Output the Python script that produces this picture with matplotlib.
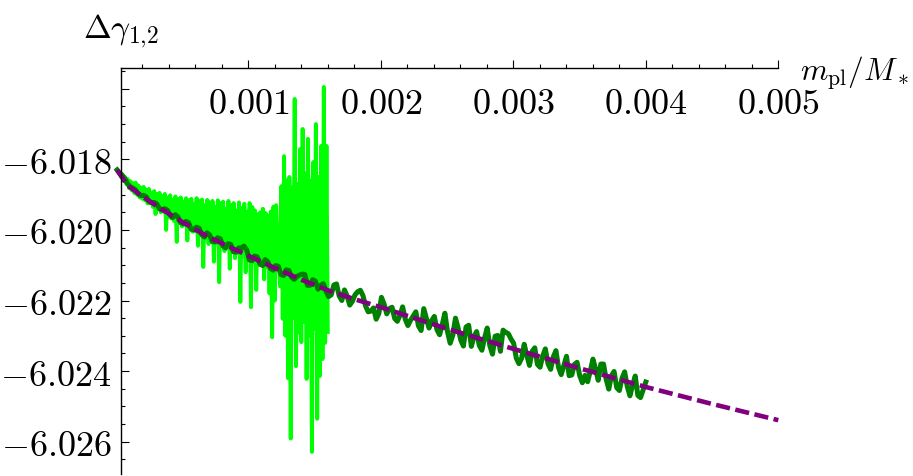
import matplotlib
matplotlib.use("Agg")
import matplotlib.pyplot as plt
import numpy as np
from matplotlib.ticker import MultipleLocator, FixedLocator

plt.rcParams['mathtext.fontset'] = 'cm'

# purple dashed fit
fit_x = [0.00001, 0.00003, 0.00006, 0.0001, 0.0002, 0.0003, 0.0004, 0.0005, 0.0006,
         0.0007, 0.0008, 0.0010, 0.0012, 0.0014, 0.0016, 0.0018, 0.0020, 0.0025,
         0.0030, 0.0035, 0.0040, 0.0045, 0.0050]
fit_y = [-6.01830, -6.01842, -6.01858, -6.01877, -6.01905, -6.01930, -6.01954, -6.01977,
         -6.01999, -6.02020, -6.02038, -6.02073, -6.02108, -6.02141, -6.02171, -6.02196,
         -6.02219, -6.02280, -6.02337, -6.02392, -6.02445, -6.02493, -6.02539]

# dark green series, x from 0.00001 to 0.004 (main grid + in-between samples)
dark_y_main = [-6.01830, -6.01846, -6.01870, -6.01882, -6.01898, -6.01902, -6.01919, -6.01922, -6.01940, -6.01940,
               -6.01958, -6.01957, -6.01979, -6.01976, -6.01998, -6.01992, -6.02013, -6.02008, -6.02033, -6.02022,
               -6.02045, -6.02039, -6.02062, -6.02051, -6.02046, -6.02085, -6.02074, -6.02096, -6.02084, -6.02109,
               -6.02101, -6.02127, -6.02113, -6.02134, -6.02132, -6.02125, -6.02157, -6.02141, -6.02168, -6.02152,
               -6.02189, -6.02156, -6.02187, -6.02170, -6.02213, -6.02184, -6.02171, -6.02216, -6.02230, -6.02253,
               -6.02191, -6.02238, -6.02219, -6.02259, -6.02218, -6.02271, -6.02244, -6.02272, -6.02223, -6.02278,
               -6.02245, -6.02297, -6.02236, -6.02321, -6.02250, -6.02312, -6.02275, -6.02330, -6.02288, -6.02341,
               -6.02278, -6.02352, -6.02299, -6.02284, -6.02294, -6.02321, -6.02379, -6.02324, -6.02384, -6.02334,
               -6.02389, -6.02337, -6.02395, -6.02342, -6.02410, -6.02358, -6.02411, -6.02375, -6.02433, -6.02430,
               -6.02366, -6.02426, -6.02380, -6.02451, -6.02401, -6.02455, -6.02402, -6.02470, -6.02414, -6.02475,
               -6.02431]
dark_y_mid = [-6.01839, -6.01856, -6.01878, -6.01887, -6.01903, -6.01906, -6.01923, -6.01926, -6.01944, -6.01944,
              -6.01965, -6.01963, -6.01983, -6.01979, -6.02000, -6.01995, -6.02020, -6.02014, -6.02034, -6.02025,
              -6.02051, -6.02041, -6.02063, -6.02051, -6.02056, -6.02087, -6.02076, -6.02101, -6.02090, -6.02114,
              -6.02103, -6.02129, -6.02115, -6.02140, -6.02128, -6.02126, -6.02157, -6.02145, -6.02157, -6.02173,
              -6.02184, -6.02153, -6.02200, -6.02187, -6.02202, -6.02175, -6.02186, -6.02232, -6.02221, -6.02237,
              -6.02210, -6.02223, -6.02251, -6.02242, -6.02253, -6.02256, -6.02232, -6.02285, -6.02250, -6.02257,
              -6.02283, -6.02268, -6.02289, -6.02298, -6.02278, -6.02329, -6.02270, -6.02302, -6.02327, -6.02306,
              -6.02328, -6.02301, -6.02344, -6.02290, -6.02309, -6.02363, -6.02364, -6.02356, -6.02344, -6.02381,
              -6.02357, -6.02379, -6.02360, -6.02390, -6.02384, -6.02413, -6.02381, -6.02413, -6.02412, -6.02400,
              -6.02394, -6.02380, -6.02423, -6.02413, -6.02447, -6.02420, -6.02444, -6.02440, -6.02469, -6.02453]
dark_x = np.linspace(0.00001, 0.004, 201)

# light green series: first block (upper / lower samples) and the wide block near 0.0014
light_up = [-6.01830, -6.01838, -6.01842, -6.01850, -6.01856, -6.01862, -6.01868, -6.01866, -6.01874, -6.01880,
            -6.01878, -6.01886, -6.01884, -6.01894, -6.01890, -6.01898, -6.01895, -6.01905, -6.01898, -6.01908,
            -6.01902, -6.01915, -6.01905, -6.01912, -6.01908, -6.01920, -6.01910, -6.01916, -6.01912, -6.01926,
            -6.01910, -6.01918, -6.01914, -6.01930, -6.01915, -6.01922, -6.01918, -6.01935, -6.01916, -6.01924,
            -6.01920, -6.01940, -6.01918, -6.01930, -6.01924, -6.01945, -6.01922, -6.01938, -6.01926, -6.01950,
            -6.01924, -6.01935, -6.01945, -6.01955, -6.01950, -6.01940, -6.01952, -6.01960, -6.01948, -6.01934,
            -6.01930]
light_low = [-6.01838, -6.01850, -6.01862, -6.01870, -6.01882, -6.01888, -6.01896, -6.01900, -6.01908, -6.01912,
             -6.01916, -6.01925, -6.01924, -6.01935, -6.01955, -6.01940, -6.01950, -6.01948, -6.02000, -6.01962,
             -6.01968, -6.01975, -6.02034, -6.01980, -6.01990, -6.01986, -6.02030, -6.01998, -6.02005, -6.02004,
             -6.02045, -6.02015, -6.02105, -6.02022, -6.02040, -6.02030, -6.02090, -6.02038, -6.02148, -6.02046,
             -6.02060, -6.02050, -6.02110, -6.02058, -6.02080, -6.02065, -6.02204, -6.02075, -6.02120, -6.02080,
             -6.02219, -6.02090, -6.02170, -6.02100, -6.02095, -6.02140, -6.02105, -6.02180, -6.02304, -6.02200]
light_wide = [-6.02160, -6.01876, -6.02252, -6.01791, -6.02300, -6.01860, -6.02420, -6.01850, -6.02591, -6.01880,
              -6.02250, -6.01629, -6.02386, -6.01870, -6.02290, -6.01771, -6.02318, -6.01714, -6.02260, -6.01840,
              -6.02422, -6.01742, -6.02300, -6.01860, -6.02629, -6.01808, -6.02280, -6.01700, -6.02535, -6.01850,
              -6.02414, -6.01762, -6.02366, -6.01595, -6.02320, -6.01762, -6.02289]
light_x = np.concatenate([np.linspace(0.00001, 0.00121, 121), np.linspace(0.00124, 0.0016, 37)])

xticks = [0.001, 0.002, 0.003, 0.004, 0.005]
xtick_labels = [r'$0.001$', r'$0.002$', r'$0.003$', r'$0.004$', r'$0.005$']
yticks = [-6.026, -6.024, -6.022, -6.020, -6.018, -6.016]
ytick_labels = [r'$-6.026$', r'$-6.024$', r'$-6.022$', r'$-6.020$', r'$-6.018$', '']

dark_y = np.empty(len(dark_x))
dark_y[0::2] = dark_y_main
dark_y[1::2] = dark_y_mid

first = np.empty(len(light_up) + len(light_low))
first[0::2] = light_up
first[1::2] = light_low
light_y = np.concatenate([first, light_wide])

x_origin = 0.0000355

fig = plt.figure(figsize=(9.13, 4.77), dpi=100)
ax = fig.add_axes([115.8 / 913, 2 / 477, 662.5 / 913, 406 / 477])

ax.plot(light_x, light_y, color='#00ff00', lw=2.8, clip_on=False)
ax.plot(dark_x, dark_y, color='#008000', lw=3.6, clip_on=False)
ax.plot(fit_x, fit_y, color='#800080', lw=3.3, dashes=(3.1, 1.2),
        dash_capstyle='butt', clip_on=False)

ax.set_xlim(0, 0.005)
ax.set_ylim(-6.026915, -6.015413)

ax.spines['top'].set_visible(False)
ax.spines['right'].set_visible(False)
ax.spines['bottom'].set_position(('axes', 1.0))
ax.spines['bottom'].set_bounds(x_origin, 0.005)
ax.spines['left'].set_position(('data', x_origin))
for s in ['bottom', 'left']:
    ax.spines[s].set_linewidth(1.0)

ax.set_xticks(xticks, labels=xtick_labels)
ax.xaxis.set_minor_locator(FixedLocator([i * 0.0002 for i in range(1, 25) if i % 5]))
ax.set_yticks(yticks, labels=ytick_labels)
ax.yaxis.set_minor_locator(MultipleLocator(0.0005))

ax.tick_params(axis='x', which='both', direction='in', labelsize=26, pad=13, width=0.8)
ax.tick_params(axis='x', which='major', length=5.8)
ax.tick_params(axis='x', which='minor', length=2.9)
ax.tick_params(axis='y', which='both', direction='in', labelsize=26, pad=6.5, width=0.8)
ax.tick_params(axis='y', which='major', length=5.5)
ax.tick_params(axis='y', which='minor', length=3.1)

fig.text(800 / 913, 1 - 80.7 / 477, r'$m_{\rm pl}/M_*$', fontsize=22.5, ha='left', va='baseline')
fig.text(121 / 913, 1 - 38 / 477, r'$\Delta\gamma_{1,\!2}$', fontsize=24, ha='center', va='baseline')

fig.savefig('out.png', dpi=100)
